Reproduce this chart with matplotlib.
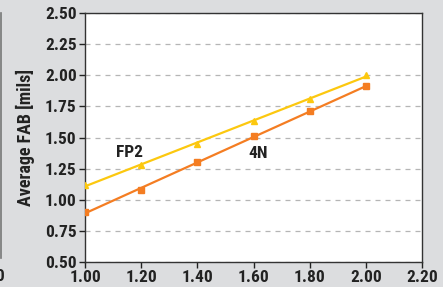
import numpy as np
import matplotlib
matplotlib.use("Agg")
import matplotlib.pyplot as plt
from matplotlib import font_manager

# pick a narrow bold face if we have one
names = set(f.name for f in font_manager.fontManager.ttflist)
FONT = "DejaVu Sans"
for cand in ["Liberation Sans Narrow", "DejaVu Sans Condensed", "Roboto Condensed"]:
    if cand in names:
        FONT = cand
        break
plt.rcParams['font.family'] = [FONT, 'DejaVu Sans']

BG = '#dcdddf'
YELLOW = '#fcc80f'
ORANGE = '#f47d22'

x = [1.0, 1.2, 1.4, 1.6, 1.8, 2.0]
fp2 = [1.12, 1.28, 1.45, 1.63, 1.81, 2.00]
n4 = [0.90, 1.08, 1.30, 1.51, 1.71, 1.91]

xticks = [1.0, 1.2, 1.4, 1.6, 1.8, 2.0, 2.2]
yticks = [0.5, 0.75, 1.0, 1.25, 1.5, 1.75, 2.0, 2.25, 2.5]

fig = plt.figure(figsize=(4.43, 2.87), dpi=100, facecolor=BG)
ax = fig.add_axes([0.1919, 0.0871, 0.7607, 0.8676])
ax.set_facecolor('white')

def trend(xs, ys):
    k, b = np.polyfit(xs, ys, 1)
    xx = np.array([xs[0], xs[-1]])
    return xx, k * xx + b

tx, ty = trend(x, fp2)
ax.plot(tx, ty, color=YELLOW, lw=1.6, zorder=3)
ax.plot(x, fp2, ls='none', marker='^', ms=5, color=YELLOW, zorder=4)
tx, ty = trend(x, n4)
ax.plot(tx, ty, color=ORANGE, lw=1.6, zorder=3)
ax.plot(x, n4, ls='none', marker='s', ms=4.5, color=ORANGE, zorder=4)

ax.set_xlim(1.0, 2.2)
ax.set_ylim(0.5, 2.5)
ax.set_xticks(xticks)
ax.set_yticks(yticks)
ax.set_xticklabels([f"{v:.2f}" for v in xticks])
ax.set_yticklabels([f"{v:.2f}" for v in yticks])
ax.tick_params(labelsize=12.5, colors='#222222', length=4, width=1, pad=2)
for lab in ax.get_xticklabels() + ax.get_yticklabels():
    lab.set_fontweight('bold')

ax.yaxis.grid(True, ls=(0, (4, 4)), color='#b5b5b5', lw=0.9)
for s in ax.spines.values():
    s.set_color('#333333')
    s.set_linewidth(1.0)

ax.set_ylabel("Average FAB [mils]", fontsize=13, fontweight='bold', color='#222222', labelpad=7)

ax.text(1.16, 1.38, "FP2", fontsize=12.5, fontweight='bold', ha='center', va='center', color='#222222')
ax.text(1.615, 1.375, "4N", fontsize=12.5, fontweight='bold', ha='center', va='center', color='#222222')

# edge of the neighbouring panel on the left
fig.add_artist(plt.Line2D([0.002, 0.002], [0.10, 0.955], color='#777777', lw=1.2))
fig.text(0.012, 0.035, "2.20", ha='right', va='center', fontsize=12.5, fontweight='bold', color='#222222')

fig.savefig("out.png", dpi=100, facecolor=BG)
